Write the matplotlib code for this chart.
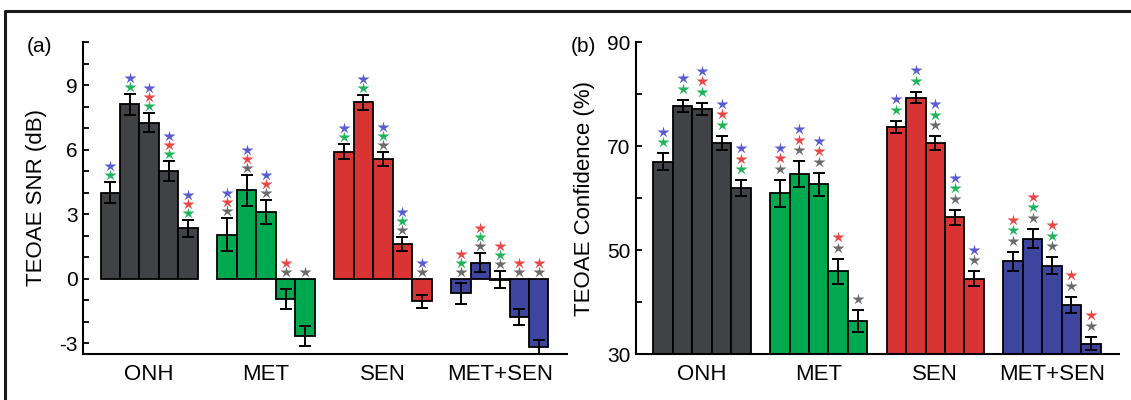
import numpy as np
import matplotlib
matplotlib.use("Agg")
import matplotlib.pyplot as plt
import matplotlib.transforms as mtransforms
from matplotlib.lines import Line2D

plt.rcParams['font.family'] = ['Liberation Sans', 'DejaVu Sans']

groups = ['ONH', 'MET', 'SEN', 'MET+SEN']

# (a) TEOAE SNR (dB), 5 bars per group
snr_onh = [4.0, 8.1, 7.25, 5.0, 2.35]
snr_met = [2.05, 4.1, 3.1, -0.93, -2.66]
snr_sen = [5.9, 8.2, 5.56, 1.6, -1.05]
snr_ms = [-0.68, 0.74, -0.05, -1.78, -3.17]
snr_err_onh = [0.5, 0.5, 0.44, 0.45, 0.4]
snr_err_met = [0.76, 0.7, 0.57, 0.46, 0.48]
snr_err_sen = [0.36, 0.34, 0.34, 0.32, 0.29]
snr_err_ms = [0.48, 0.45, 0.39, 0.35, 0.31]

# (b) TEOAE Confidence (%)
conf_onh = [67.0, 77.7, 77.1, 70.6, 61.9]
conf_met = [60.9, 64.6, 62.6, 45.9, 36.4]
conf_sen = [73.7, 79.3, 70.6, 56.3, 44.5]
conf_ms = [47.8, 52.2, 47.0, 39.4, 32.0]
conf_err_onh = [1.6, 1.2, 1.2, 1.4, 1.5]
conf_err_met = [2.6, 2.5, 2.3, 2.4, 2.1]
conf_err_sen = [1.2, 1.1, 1.3, 1.4, 1.4]
conf_err_ms = [1.9, 1.9, 1.6, 1.6, 1.3]

# significance stars above each bar, listed bottom -> top
# b = blue, r = red, g = green, k = gray
stars_onh = ['gb', 'gb', 'grb', 'grb', 'grb']
stars_met = ['krb', 'krb', 'krb', 'kr', 'k']
stars_sen = ['gb', 'gb', 'kgb', 'kgb', 'kb']
stars_ms = ['kgr', 'kgr', 'kgr', 'kr', 'kr']

bar_colors = ['#404246', '#00a84f', '#d83434', '#3d459f']
star_colors = {'b': '#5a5ad2', 'r': '#ea4646', 'g': '#1fb45a', 'k': '#6a6a6a'}

W, H = 1131, 400
fig = plt.figure(figsize=(W / 100, H / 100), dpi=100)

# outer frame (left and top edges)
fig.add_artist(Line2D([5 / W, 5 / W, 1.0], [0.0, 1 - 11 / H, 1 - 11 / H],
                      transform=fig.transFigure, color='#1a1a1a', lw=2.2))


def draw_panel(ax, vals, errs, stars, ylim, major, minor, ylabel, gap, step):
    for g in range(4):
        x = g * 6 + np.arange(5)
        ax.bar(x, vals[g], width=1.0, color=bar_colors[g], edgecolor='black',
               linewidth=1.3, zorder=2)
        ax.errorbar(x, vals[g], yerr=errs[g], fmt='none', ecolor='black',
                    elinewidth=1.4, capsize=4, capthick=1.4, zorder=3)
        for i in range(5):
            base = max(vals[g][i] + errs[g][i], 0)
            for k, c in enumerate(stars[g][i]):
                tr = mtransforms.offset_copy(ax.transData, fig=fig,
                                             x=0, y=gap + k * step, units='dots')
                ax.plot(x[i], base, marker='*', ms=9, color=star_colors[c],
                        mec='none', transform=tr, zorder=4, clip_on=False)
    ax.set_xlim(-1.4, 23.45)
    ax.set_ylim(*ylim)
    ax.set_xticks([g * 6 + 2 for g in range(4)])
    ax.set_xticklabels(groups, fontsize=16)
    ax.tick_params(axis='x', length=0, pad=7)
    ax.set_yticks(major)
    ax.set_yticks(minor, minor=True)
    ax.tick_params(axis='y', which='both', direction='in', length=4,
                   width=1.3, labelsize=15, pad=4)
    for s in ['top', 'right']:
        ax.spines[s].set_visible(False)
    for s in ['left', 'bottom']:
        ax.spines[s].set_linewidth(1.5)
    ax.set_ylabel(ylabel, fontsize=16)


ax1 = fig.add_axes([83 / W, 46 / H, 484 / W, 312 / H])
draw_panel(ax1, [snr_onh, snr_met, snr_sen, snr_ms],
           [snr_err_onh, snr_err_met, snr_err_sen, snr_err_ms],
           [stars_onh, stars_met, stars_sen, stars_ms],
           (-3.5, 11), [-3, 0, 3, 6, 9], np.arange(-3, 12, 1),
           'TEOAE SNR (dB)', 7, 9)
ax1.yaxis.set_label_coords(-0.075, 0.5)
ax1.set_yticklabels(['-3', '0', '3', '6', '9'])

ax2 = fig.add_axes([636 / W, 46 / H, 483 / W, 312 / H])
draw_panel(ax2, [conf_onh, conf_met, conf_sen, conf_ms],
           [conf_err_onh, conf_err_met, conf_err_sen, conf_err_ms],
           [stars_onh, stars_met, stars_sen, stars_ms],
           (30, 90), [30, 50, 70, 90], [40, 60, 80],
           'TEOAE Confidence (%)', 11, 10.5)
ax2.yaxis.set_label_coords(-0.085, 0.5)

fig.text(27 / W, 1 - 46 / H, '(a)', fontsize=15, ha='left', va='center')
fig.text(571 / W, 1 - 46 / H, '(b)', fontsize=15, ha='left', va='center')

fig.savefig('out.png', dpi=100)
